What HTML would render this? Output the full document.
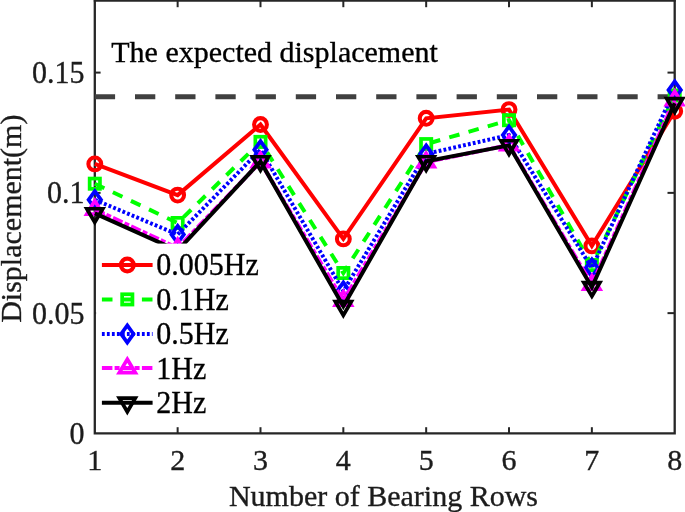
<!DOCTYPE html>
<html><head><meta charset="utf-8"><title>Displacement vs Number of Bearing Rows</title>
<style>
html,body{margin:0;padding:0;background:#fff;}
body{width:685px;height:512px;overflow:hidden;}
.t{font-family:"Liberation Serif","Times New Roman",serif;font-size:30px;fill:#000;stroke:#000;stroke-width:0.35px;}
.a{fill:#1c1c1c;stroke:#1c1c1c;}
</style></head><body>
<svg width="685" height="512" viewBox="0 0 685 512" style="display:block">
<rect width="685" height="512" fill="#fff"/>
<g stroke="#262626" fill="none">
<path d="M94.8 -2V433.4H674.7V-2" stroke-width="2.3" stroke-linejoin="miter"/>
<line x1="93.8" y1="0.5" x2="675.7" y2="0.5" stroke-width="2.3"/>
<line x1="177.64" y1="433.4" x2="177.64" y2="427.2" stroke-width="2.0"/>
<line x1="177.64" y1="0" x2="177.64" y2="7.2" stroke-width="2.0"/>
<line x1="260.49" y1="433.4" x2="260.49" y2="427.2" stroke-width="2.0"/>
<line x1="260.49" y1="0" x2="260.49" y2="7.2" stroke-width="2.0"/>
<line x1="343.33" y1="433.4" x2="343.33" y2="427.2" stroke-width="2.0"/>
<line x1="343.33" y1="0" x2="343.33" y2="7.2" stroke-width="2.0"/>
<line x1="426.17" y1="433.4" x2="426.17" y2="427.2" stroke-width="2.0"/>
<line x1="426.17" y1="0" x2="426.17" y2="7.2" stroke-width="2.0"/>
<line x1="509.01" y1="433.4" x2="509.01" y2="427.2" stroke-width="2.0"/>
<line x1="509.01" y1="0" x2="509.01" y2="7.2" stroke-width="2.0"/>
<line x1="591.86" y1="433.4" x2="591.86" y2="427.2" stroke-width="2.0"/>
<line x1="591.86" y1="0" x2="591.86" y2="7.2" stroke-width="2.0"/>
<line x1="94.8" y1="313.13" x2="100.6" y2="313.13" stroke-width="2.0"/>
<line x1="674.7" y1="313.13" x2="667.5" y2="313.13" stroke-width="2.0"/>
<line x1="94.8" y1="192.87" x2="100.6" y2="192.87" stroke-width="2.0"/>
<line x1="674.7" y1="192.87" x2="667.5" y2="192.87" stroke-width="2.0"/>
<line x1="94.8" y1="72.60" x2="100.6" y2="72.60" stroke-width="2.0"/>
<line x1="674.7" y1="72.60" x2="667.5" y2="72.60" stroke-width="2.0"/>
</g>
<line x1="94.8" y1="96.7" x2="675.7" y2="96.7" stroke="#404040" stroke-width="5" stroke-dasharray="20.3 19.9"/>
<g><polyline points="94.80,163.90 177.64,195.10 260.49,124.50 343.33,238.90 426.17,118.30 509.01,109.60 591.86,245.90 674.70,111.20" fill="none" stroke="#ff0000" stroke-width="4.0" stroke-linejoin="miter"/>
<circle cx="94.80" cy="163.90" r="6.4" fill="none" stroke="#ff0000" stroke-width="4.1"/>
<circle cx="177.64" cy="195.10" r="6.4" fill="none" stroke="#ff0000" stroke-width="4.1"/>
<circle cx="260.49" cy="124.50" r="6.4" fill="none" stroke="#ff0000" stroke-width="4.1"/>
<circle cx="343.33" cy="238.90" r="6.4" fill="none" stroke="#ff0000" stroke-width="4.1"/>
<circle cx="426.17" cy="118.30" r="6.4" fill="none" stroke="#ff0000" stroke-width="4.1"/>
<circle cx="509.01" cy="109.60" r="6.4" fill="none" stroke="#ff0000" stroke-width="4.1"/>
<circle cx="591.86" cy="245.90" r="6.4" fill="none" stroke="#ff0000" stroke-width="4.1"/>
<circle cx="674.70" cy="111.20" r="6.4" fill="none" stroke="#ff0000" stroke-width="4.1"/>
</g>
<g><polyline points="94.80,183.70 177.64,223.00 260.49,141.90 343.33,273.00 426.17,144.10 509.01,120.20 591.86,265.00 674.70,95.50" fill="none" stroke="#00ff00" stroke-width="4.0" stroke-linejoin="miter" stroke-dasharray="10.6 9.4"/>
<rect x="89.65" y="178.55" width="10.3" height="10.3" fill="none" stroke="#00ff00" stroke-width="3.7"/>
<rect x="172.49" y="217.85" width="10.3" height="10.3" fill="none" stroke="#00ff00" stroke-width="3.7"/>
<rect x="255.34" y="136.75" width="10.3" height="10.3" fill="none" stroke="#00ff00" stroke-width="3.7"/>
<rect x="338.18" y="267.85" width="10.3" height="10.3" fill="none" stroke="#00ff00" stroke-width="3.7"/>
<rect x="421.02" y="138.95" width="10.3" height="10.3" fill="none" stroke="#00ff00" stroke-width="3.7"/>
<rect x="503.86" y="115.05" width="10.3" height="10.3" fill="none" stroke="#00ff00" stroke-width="3.7"/>
<rect x="586.71" y="259.85" width="10.3" height="10.3" fill="none" stroke="#00ff00" stroke-width="3.7"/>
<rect x="669.55" y="90.35" width="10.3" height="10.3" fill="none" stroke="#00ff00" stroke-width="3.7"/>
</g>
<g><polyline points="94.80,199.80 177.64,234.50 260.49,149.80 343.33,291.00 426.17,153.90 509.01,135.10 591.86,268.00 674.70,90.00" fill="none" stroke="#0000ff" stroke-width="4.0" stroke-linejoin="miter" stroke-dasharray="2.8 2.2"/>
<path d="M94.80 191.20L101.00 199.80L94.80 208.40L88.60 199.80Z" fill="none" stroke="#0000ff" stroke-width="3.7" stroke-miterlimit="10"/>
<path d="M177.64 225.90L183.84 234.50L177.64 243.10L171.44 234.50Z" fill="none" stroke="#0000ff" stroke-width="3.7" stroke-miterlimit="10"/>
<path d="M260.49 141.20L266.69 149.80L260.49 158.40L254.29 149.80Z" fill="none" stroke="#0000ff" stroke-width="3.7" stroke-miterlimit="10"/>
<path d="M343.33 282.40L349.53 291.00L343.33 299.60L337.13 291.00Z" fill="none" stroke="#0000ff" stroke-width="3.7" stroke-miterlimit="10"/>
<path d="M426.17 145.30L432.37 153.90L426.17 162.50L419.97 153.90Z" fill="none" stroke="#0000ff" stroke-width="3.7" stroke-miterlimit="10"/>
<path d="M509.01 126.50L515.21 135.10L509.01 143.70L502.81 135.10Z" fill="none" stroke="#0000ff" stroke-width="3.7" stroke-miterlimit="10"/>
<path d="M591.86 259.40L598.06 268.00L591.86 276.60L585.66 268.00Z" fill="none" stroke="#0000ff" stroke-width="3.7" stroke-miterlimit="10"/>
<path d="M674.70 81.40L680.90 90.00L674.70 98.60L668.50 90.00Z" fill="none" stroke="#0000ff" stroke-width="3.7" stroke-miterlimit="10"/>
</g>
<g><polyline points="94.80,209.40 177.64,248.00 260.49,162.00 343.33,300.50 426.17,162.10 509.01,145.00 591.86,284.50 674.70,100.00" fill="none" stroke="#ff00ff" stroke-width="4.0" stroke-linejoin="miter" stroke-dasharray="10.5 2.2 5 2.3"/>
<path d="M94.80 200.70L102.80 214.05L86.80 214.05Z" fill="none" stroke="#ff00ff" stroke-width="3.7" stroke-miterlimit="10"/>
<path d="M177.64 239.30L185.64 252.65L169.64 252.65Z" fill="none" stroke="#ff00ff" stroke-width="3.7" stroke-miterlimit="10"/>
<path d="M260.49 153.30L268.49 166.65L252.49 166.65Z" fill="none" stroke="#ff00ff" stroke-width="3.7" stroke-miterlimit="10"/>
<path d="M343.33 291.80L351.33 305.15L335.33 305.15Z" fill="none" stroke="#ff00ff" stroke-width="3.7" stroke-miterlimit="10"/>
<path d="M426.17 153.40L434.17 166.75L418.17 166.75Z" fill="none" stroke="#ff00ff" stroke-width="3.7" stroke-miterlimit="10"/>
<path d="M509.01 136.30L517.01 149.65L501.01 149.65Z" fill="none" stroke="#ff00ff" stroke-width="3.7" stroke-miterlimit="10"/>
<path d="M591.86 275.80L599.86 289.15L583.86 289.15Z" fill="none" stroke="#ff00ff" stroke-width="3.7" stroke-miterlimit="10"/>
<path d="M674.70 91.30L682.70 104.65L666.70 104.65Z" fill="none" stroke="#ff00ff" stroke-width="3.7" stroke-miterlimit="10"/>
</g>
<g><polyline points="94.80,213.40 177.64,250.50 260.49,161.40 343.33,306.30 426.17,161.40 509.01,145.40 591.86,287.20 674.70,103.20" fill="none" stroke="#000000" stroke-width="4.0" stroke-linejoin="miter"/>
<path d="M94.80 222.40L102.80 208.75L86.80 208.75Z" fill="none" stroke="#000000" stroke-width="3.7" stroke-miterlimit="10"/>
<path d="M177.64 259.50L185.64 245.85L169.64 245.85Z" fill="none" stroke="#000000" stroke-width="3.7" stroke-miterlimit="10"/>
<path d="M260.49 170.40L268.49 156.75L252.49 156.75Z" fill="none" stroke="#000000" stroke-width="3.7" stroke-miterlimit="10"/>
<path d="M343.33 315.30L351.33 301.65L335.33 301.65Z" fill="none" stroke="#000000" stroke-width="3.7" stroke-miterlimit="10"/>
<path d="M426.17 170.40L434.17 156.75L418.17 156.75Z" fill="none" stroke="#000000" stroke-width="3.7" stroke-miterlimit="10"/>
<path d="M509.01 154.40L517.01 140.75L501.01 140.75Z" fill="none" stroke="#000000" stroke-width="3.7" stroke-miterlimit="10"/>
<path d="M591.86 296.20L599.86 282.55L583.86 282.55Z" fill="none" stroke="#000000" stroke-width="3.7" stroke-miterlimit="10"/>
<path d="M674.70 112.20L682.70 98.55L666.70 98.55Z" fill="none" stroke="#000000" stroke-width="3.7" stroke-miterlimit="10"/>
</g>
<rect x="96.1" y="243.6" width="167" height="178" fill="#fff"/>
<line x1="101.9" y1="265.0" x2="152.6" y2="265.0" stroke="#ff0000" stroke-width="4.0"/>
<circle cx="127.30" cy="265.00" r="6.4" fill="none" stroke="#ff0000" stroke-width="4.1"/>
<text transform="translate(156.3 275.1) scale(1 1.06)" class="t">0.005Hz</text>
<line x1="101.9" y1="299.4" x2="152.6" y2="299.4" stroke="#00ff00" stroke-width="4.0" stroke-dasharray="10.6 9.4"/>
<rect x="122.15" y="294.25" width="10.3" height="10.3" fill="none" stroke="#00ff00" stroke-width="3.7"/>
<text transform="translate(156.3 309.5) scale(1 1.04)" class="t">0.1Hz</text>
<line x1="101.9" y1="333.9" x2="152.6" y2="333.9" stroke="#0000ff" stroke-width="4.0" stroke-dasharray="2.8 2.2"/>
<path d="M127.30 325.30L133.50 333.90L127.30 342.50L121.10 333.90Z" fill="none" stroke="#0000ff" stroke-width="3.7" stroke-miterlimit="10"/>
<text transform="translate(156.3 344.1) scale(1 1.04)" class="t">0.5Hz</text>
<line x1="101.9" y1="368.0" x2="152.6" y2="368.0" stroke="#ff00ff" stroke-width="4.0" stroke-dasharray="10.5 2.2 5 2.3"/>
<path d="M127.30 359.30L135.30 372.65L119.30 372.65Z" fill="none" stroke="#ff00ff" stroke-width="3.7" stroke-miterlimit="10"/>
<text transform="translate(156.3 378.6) scale(1 1.04)" class="t">1Hz</text>
<line x1="101.9" y1="402.8" x2="152.6" y2="402.8" stroke="#000000" stroke-width="4.0"/>
<path d="M127.30 411.80L135.30 398.15L119.30 398.15Z" fill="none" stroke="#000000" stroke-width="3.7" stroke-miterlimit="10"/>
<text transform="translate(156.3 413.1) scale(1 1.04)" class="t">2Hz</text>
<text x="94.80" y="470.3" text-anchor="middle" class="t a">1</text>
<text x="177.64" y="470.3" text-anchor="middle" class="t a">2</text>
<text x="260.49" y="470.3" text-anchor="middle" class="t a">3</text>
<text x="343.33" y="470.3" text-anchor="middle" class="t a">4</text>
<text x="426.17" y="470.3" text-anchor="middle" class="t a">5</text>
<text x="509.01" y="470.3" text-anchor="middle" class="t a">6</text>
<text x="591.86" y="470.3" text-anchor="middle" class="t a">7</text>
<text x="674.70" y="470.3" text-anchor="middle" class="t a">8</text>
<text transform="translate(84.5 444.00) scale(1 1.04)" text-anchor="end" class="t a">0</text>
<text transform="translate(84.5 323.74) scale(1 1.04)" text-anchor="end" class="t a">0.05</text>
<text transform="translate(84.5 203.47) scale(1 1.04)" text-anchor="end" class="t a">0.1</text>
<text transform="translate(84.5 83.20) scale(1 1.04)" text-anchor="end" class="t a">0.15</text>
<text x="111.3" y="61.7" class="t">The expected displacement</text>
<text x="383.5" y="506" text-anchor="middle" class="t a">Number of Bearing Rows</text>
<text transform="translate(20.6 218.7) rotate(-90)" text-anchor="middle" class="t a">Displacement(m)</text>
</svg>
</body></html>
